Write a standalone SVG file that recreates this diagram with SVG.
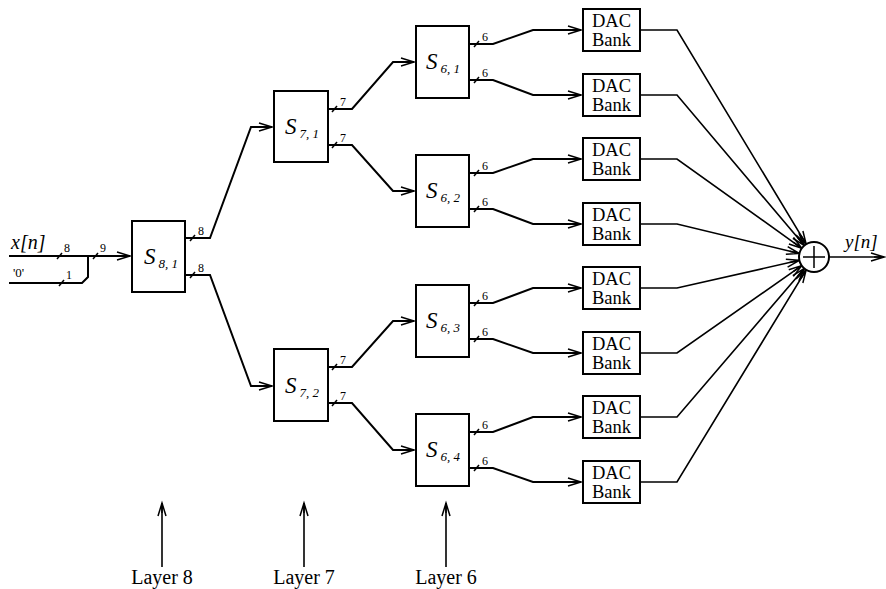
<svg xmlns="http://www.w3.org/2000/svg" width="886" height="589" viewBox="0 0 886 589" font-family="'Liberation Serif', 'Times New Roman', 'DejaVu Serif', serif">
<style>
.box{fill:#fff;stroke:#000;stroke-width:2}
.w{fill:none;stroke:#000;stroke-width:2;stroke-linejoin:miter}
.t{fill:none;stroke:#000;stroke-width:1.6}
.sl{stroke:#000;stroke-width:1.5}
text{font-family:'Liberation Serif','Times New Roman','DejaVu Serif',serif;fill:#000}
.s{font-style:italic;font-size:23px}
.sub{font-size:13px}
.bit{font-size:12px}
.dac{font-size:18.5px;text-anchor:middle}
</style>
<defs>
<marker id="ar" markerUnits="userSpaceOnUse" markerWidth="16" markerHeight="10" refX="13" refY="4" orient="auto" overflow="visible">
<path d="M0,0 L13,4 L0,8 M3,4 L13,4" fill="none" stroke="#000" stroke-width="1.5"/>
</marker>
</defs>
<g id="connectors">
<path class="w" d="M9,256 H130" marker-end="url(#ar)"/>
<path class="w" d="M9,283 H82 L88,277 V256"/>
<path class="w" d="M185,238 H210 L251,127 H272" marker-end="url(#ar)"/>
<path class="w" d="M185,275 H210 L251,386 H272" marker-end="url(#ar)"/>
<path class="w" d="M328,109 H352 L393,62 H414" marker-end="url(#ar)"/>
<path class="w" d="M328,145 H352 L393,191 H414" marker-end="url(#ar)"/>
<path class="w" d="M328,367 H352 L393,321 H414" marker-end="url(#ar)"/>
<path class="w" d="M328,403 H352 L393,450 H414" marker-end="url(#ar)"/>
<path class="w" d="M469,44 H493 L533,30 H581" marker-end="url(#ar)"/>
<path class="w" d="M469,80 H493 L533,95 H581" marker-end="url(#ar)"/>
<path class="w" d="M469,173 H493 L533,159 H581" marker-end="url(#ar)"/>
<path class="w" d="M469,209 H493 L533,224 H581" marker-end="url(#ar)"/>
<path class="w" d="M469,303 H493 L533,288 H581" marker-end="url(#ar)"/>
<path class="w" d="M469,339 H493 L533,353 H581" marker-end="url(#ar)"/>
<path class="w" d="M469,432 H493 L533,417 H581" marker-end="url(#ar)"/>
<path class="w" d="M469,468 H493 L533,482 H581" marker-end="url(#ar)"/>
<path class="t" d="M640,30 H677 L806.2,244.2" marker-end="url(#ar)"/>
<path class="t" d="M640,95 H677 L804.3,245.6" marker-end="url(#ar)"/>
<path class="t" d="M640,159 H677 L801.8,248.3" marker-end="url(#ar)"/>
<path class="t" d="M640,224 H677 L799.4,253.5" marker-end="url(#ar)"/>
<path class="t" d="M640,288 H677 L799.4,260.3" marker-end="url(#ar)"/>
<path class="t" d="M640,353 H677 L801.7,265.6" marker-end="url(#ar)"/>
<path class="t" d="M640,417 H677 L804.3,268.4" marker-end="url(#ar)"/>
<path class="t" d="M640,482 H677 L806.2,269.8" marker-end="url(#ar)"/>
<path class="t" d="M829,257 H884" marker-end="url(#ar)"/>
<path class="t" d="M162,567 V503" marker-end="url(#ar)"/>
<path class="t" d="M304,567 V503" marker-end="url(#ar)"/>
<path class="t" d="M446,567 V503" marker-end="url(#ar)"/>
<g class="sl">
<line x1="57" y1="259" x2="62" y2="253"/>
<line x1="59" y1="286" x2="64" y2="280"/>
<line x1="93" y1="259" x2="98" y2="253"/>
<line x1="190" y1="241" x2="195" y2="235"/>
<line x1="190" y1="278" x2="195" y2="272"/>
<line x1="332" y1="112" x2="337" y2="106"/>
<line x1="332" y1="148" x2="337" y2="142"/>
<line x1="332" y1="370" x2="337" y2="364"/>
<line x1="332" y1="406" x2="337" y2="400"/>
<line x1="474" y1="47" x2="479" y2="41"/>
<line x1="474" y1="83" x2="479" y2="77"/>
<line x1="474" y1="176" x2="479" y2="170"/>
<line x1="474" y1="212" x2="479" y2="206"/>
<line x1="474" y1="306" x2="479" y2="300"/>
<line x1="474" y1="342" x2="479" y2="336"/>
<line x1="474" y1="435" x2="479" y2="429"/>
<line x1="474" y1="471" x2="479" y2="465"/>
</g>
</g>
<g id="bitlabels">
<text class="bit" x="64" y="252">8</text>
<text class="bit" x="66" y="279">1</text>
<text class="bit" x="100" y="252">9</text>
<text class="bit" x="198" y="235">8</text>
<text class="bit" x="198" y="272">8</text>
<text class="bit" x="340" y="106">7</text>
<text class="bit" x="340" y="142">7</text>
<text class="bit" x="340" y="364">7</text>
<text class="bit" x="340" y="400">7</text>
<text class="bit" x="482" y="41">6</text>
<text class="bit" x="482" y="77">6</text>
<text class="bit" x="482" y="170">6</text>
<text class="bit" x="482" y="206">6</text>
<text class="bit" x="482" y="300">6</text>
<text class="bit" x="482" y="336">6</text>
<text class="bit" x="482" y="429">6</text>
<text class="bit" x="482" y="465">6</text>
</g>
<g id="inputs">
<text x="11" y="249" font-style="italic" font-size="20">x[n]</text>
<text x="13" y="277" font-size="13">'0'</text>
</g>
<g id="S81"><rect class="box" x="132" y="221" width="53" height="71"/><text class="s" x="144" y="264">S<tspan class="sub" dx="3" dy="4">8, 1</tspan></text></g>
<g id="S71"><rect class="box" x="274" y="91" width="54" height="71"/><text class="s" x="285" y="134">S<tspan class="sub" dx="3" dy="4">7, 1</tspan></text></g>
<g id="S72"><rect class="box" x="274" y="349" width="54" height="72"/><text class="s" x="285" y="393">S<tspan class="sub" dx="3" dy="4">7, 2</tspan></text></g>
<g id="S61"><rect class="box" x="416" y="26" width="53" height="72"/><text class="s" x="426" y="69">S<tspan class="sub" dx="3" dy="4">6, 1</tspan></text></g>
<g id="S62"><rect class="box" x="416" y="155" width="53" height="72"/><text class="s" x="426" y="198">S<tspan class="sub" dx="3" dy="4">6, 2</tspan></text></g>
<g id="S63"><rect class="box" x="416" y="285" width="53" height="72"/><text class="s" x="426" y="328">S<tspan class="sub" dx="3" dy="4">6, 3</tspan></text></g>
<g id="S64"><rect class="box" x="416" y="414" width="53" height="72"/><text class="s" x="426" y="457">S<tspan class="sub" dx="3" dy="4">6, 4</tspan></text></g>
<g id="DAC1"><rect class="box" x="583" y="9" width="57" height="42"/><text class="dac" x="611.5" y="27">DAC</text><text class="dac" x="611.5" y="46">Bank</text></g>
<g id="DAC2"><rect class="box" x="583" y="74" width="57" height="42"/><text class="dac" x="611.5" y="92">DAC</text><text class="dac" x="611.5" y="111">Bank</text></g>
<g id="DAC3"><rect class="box" x="583" y="138" width="57" height="42"/><text class="dac" x="611.5" y="156">DAC</text><text class="dac" x="611.5" y="175">Bank</text></g>
<g id="DAC4"><rect class="box" x="583" y="203" width="57" height="42"/><text class="dac" x="611.5" y="221">DAC</text><text class="dac" x="611.5" y="240">Bank</text></g>
<g id="DAC5"><rect class="box" x="583" y="267" width="57" height="42"/><text class="dac" x="611.5" y="285">DAC</text><text class="dac" x="611.5" y="304">Bank</text></g>
<g id="DAC6"><rect class="box" x="583" y="332" width="57" height="42"/><text class="dac" x="611.5" y="350">DAC</text><text class="dac" x="611.5" y="369">Bank</text></g>
<g id="DAC7"><rect class="box" x="583" y="396" width="57" height="42"/><text class="dac" x="611.5" y="414">DAC</text><text class="dac" x="611.5" y="433">Bank</text></g>
<g id="DAC8"><rect class="box" x="583" y="461" width="57" height="42"/><text class="dac" x="611.5" y="479">DAC</text><text class="dac" x="611.5" y="498">Bank</text></g>
<g id="sum"><circle cx="814" cy="257" r="15" fill="#fff" stroke="#000" stroke-width="2"/><path d="M814,246 V268 M803,257 H825" stroke="#000" stroke-width="1.5"/></g>
<g id="output"><text x="845" y="248" font-style="italic" font-size="19">y[n]</text></g>
<g id="layers" font-size="20" text-anchor="middle">
<text x="162" y="584">Layer 8</text>
<text x="304" y="584">Layer 7</text>
<text x="446" y="584">Layer 6</text>
</g>
</svg>
